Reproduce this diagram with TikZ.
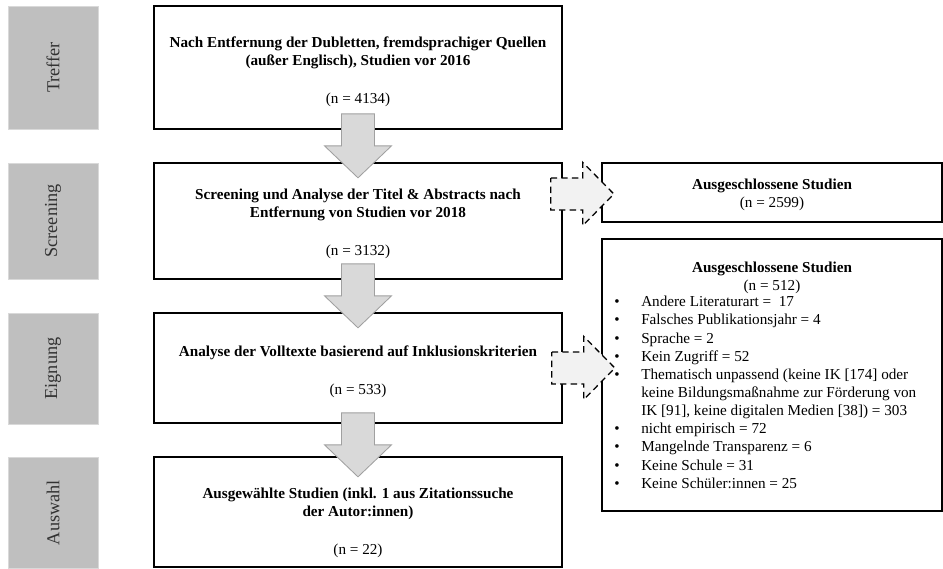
\documentclass[tikz,border=0pt]{standalone}
\usepackage{fontspec}
\setmainfont{Liberation Serif}
\usetikzlibrary{calc}
\definecolor{mygray}{RGB}{191,191,191}
\definecolor{mylightgray}{RGB}{217,217,217}
\definecolor{myarrowgray}{RGB}{160,160,160}
\definecolor{mypalegray}{RGB}{242,242,242}
\definecolor{mytext}{RGB}{50,50,50}
\newcommand{\itembul}{\llap{\textbullet\hspace{0.54cm}}}

\tikzset{
  phase/.style={fill=mygray, draw=mylightgray, rotate=90, inner sep=0pt,
    minimum width=#1*0.025cm, minimum height=90*0.025cm,
    text=mytext, font=\fontsize{13}{14}\selectfont},
  mainbox/.style={draw, line width=1.2pt, inner sep=0pt,
    minimum width=408*0.025cm, minimum height=#1*0.025cm},
  exclbox/.style={draw, line width=1.2pt, inner sep=0pt,
    minimum width=340*0.025cm, minimum height=#1*0.025cm},
  boxtext/.style={anchor=north, inner sep=0pt, align=center,
    font=\fontsize{10.8}{12.8}\selectfont},
  listtext/.style={anchor=north west, inner sep=0pt, align=left,
    font=\fontsize{10.8}{12.9}\selectfont},
  downarrow/.pic={
    \filldraw[fill=mylightgray, draw=myarrowgray, line width=0.6pt]
      (-16.5,0) -- (16.5,0) -- (16.5,32) -- (33.5,32) -- (0,64)
      -- (-33.5,32) -- (-16.5,32) -- cycle;
  },
  sidearrow/.pic={
    \filldraw[fill=mypalegray, draw=black, line width=0.9pt, dash pattern=on 4.5pt off 3pt]
      (0,-16) -- (32,-16) -- (32,-31.5) -- (63,0) -- (32,31.5)
      -- (32,16) -- (0,16) -- cycle;
  }
}

\begin{document}
\begin{tikzpicture}[x=0.025cm, y=-0.025cm]
\useasboundingbox (0,0) rectangle (943,568);

\node[phase=123] (treffer) at (53,67.5) {Treffer};
\node[phase=116] (screening) at (53,221) {Screening};
\node[phase=111] (eignung) at (53,368.5) {Eignung};
\node[phase=111] (auswahl) at (53,512.5) {Auswahl};

\node[mainbox=123] (hits) at (358,67.5) {};
\node[mainbox=116] (screen) at (358,221) {};
\node[mainbox=110] (full) at (358,368) {};
\node[mainbox=110] (final) at (358,512) {};

\node[exclbox=59] (excl1) at (772,192.5) {};
\node[exclbox=272] (excl2) at (772,375) {};

\node[boxtext] (hits-text) at (358,36.5)
  {\textbf{Nach Entfernung der Dubletten, fremdsprachiger Quellen}\\
   \textbf{(außer Englisch), Studien vor 2016}\\[14pt]
   (n = 4134)};
\node[boxtext] (screen-text) at (358,188.5)
  {\textbf{Screening und Analyse der Titel \& Abstracts nach}\\
   \textbf{Entfernung von Studien vor 2018}\\[14pt]
   (n = 3132)};
\node[boxtext] (full-text) at (358,345.5)
  {\textbf{Analyse der Volltexte basierend auf Inklusionskriterien}\\[14pt]
   (n = 533)};
\node[boxtext] (final-text) at (358,487.5)
  {\textbf{Ausgewählte Studien (inkl. 1 aus Zitationssuche}\\
   \textbf{der Autor:innen)}\\[14pt]
   (n = 22)};

\node[boxtext] (excl1-text) at (772,178.5)
  {\textbf{Ausgeschlossene Studien}\\(n = 2599)};
\node[boxtext] (excl2-text) at (772,262)
  {\textbf{Ausgeschlossene Studien}\\(n = 512)};
\node[listtext] (reasons) at (641,296)
  {\itembul Andere Literaturart = \ 17\\
   \itembul Falsches Publikationsjahr = 4\\
   \itembul Sprache = 2\\
   \itembul Kein Zugriff = 52\\
   \itembul Thematisch unpassend (keine IK [174] oder\\
   keine Bildungsmaßnahme zur Förderung von\\
   IK [91], keine digitalen Medien [38]) = 303\\
   \itembul nicht empirisch = 72\\
   \itembul Mangelnde Transparenz = 6\\
   \itembul Keine Schule = 31\\
   \itembul Keine Schüler:innen = 25};

\pic at ($(hits.south)+(0,-16)$) {downarrow};
\pic at ($(screen.south)+(0,-16)$) {downarrow};
\pic at ($(full.south)+(0,-11)$) {downarrow};

\pic at ($(screen.east |- excl1.west)+(-12,1.5)$) {sidearrow};
\pic at ($(full.east)+(-11,0)$) {sidearrow};
\end{tikzpicture}
\end{document}
